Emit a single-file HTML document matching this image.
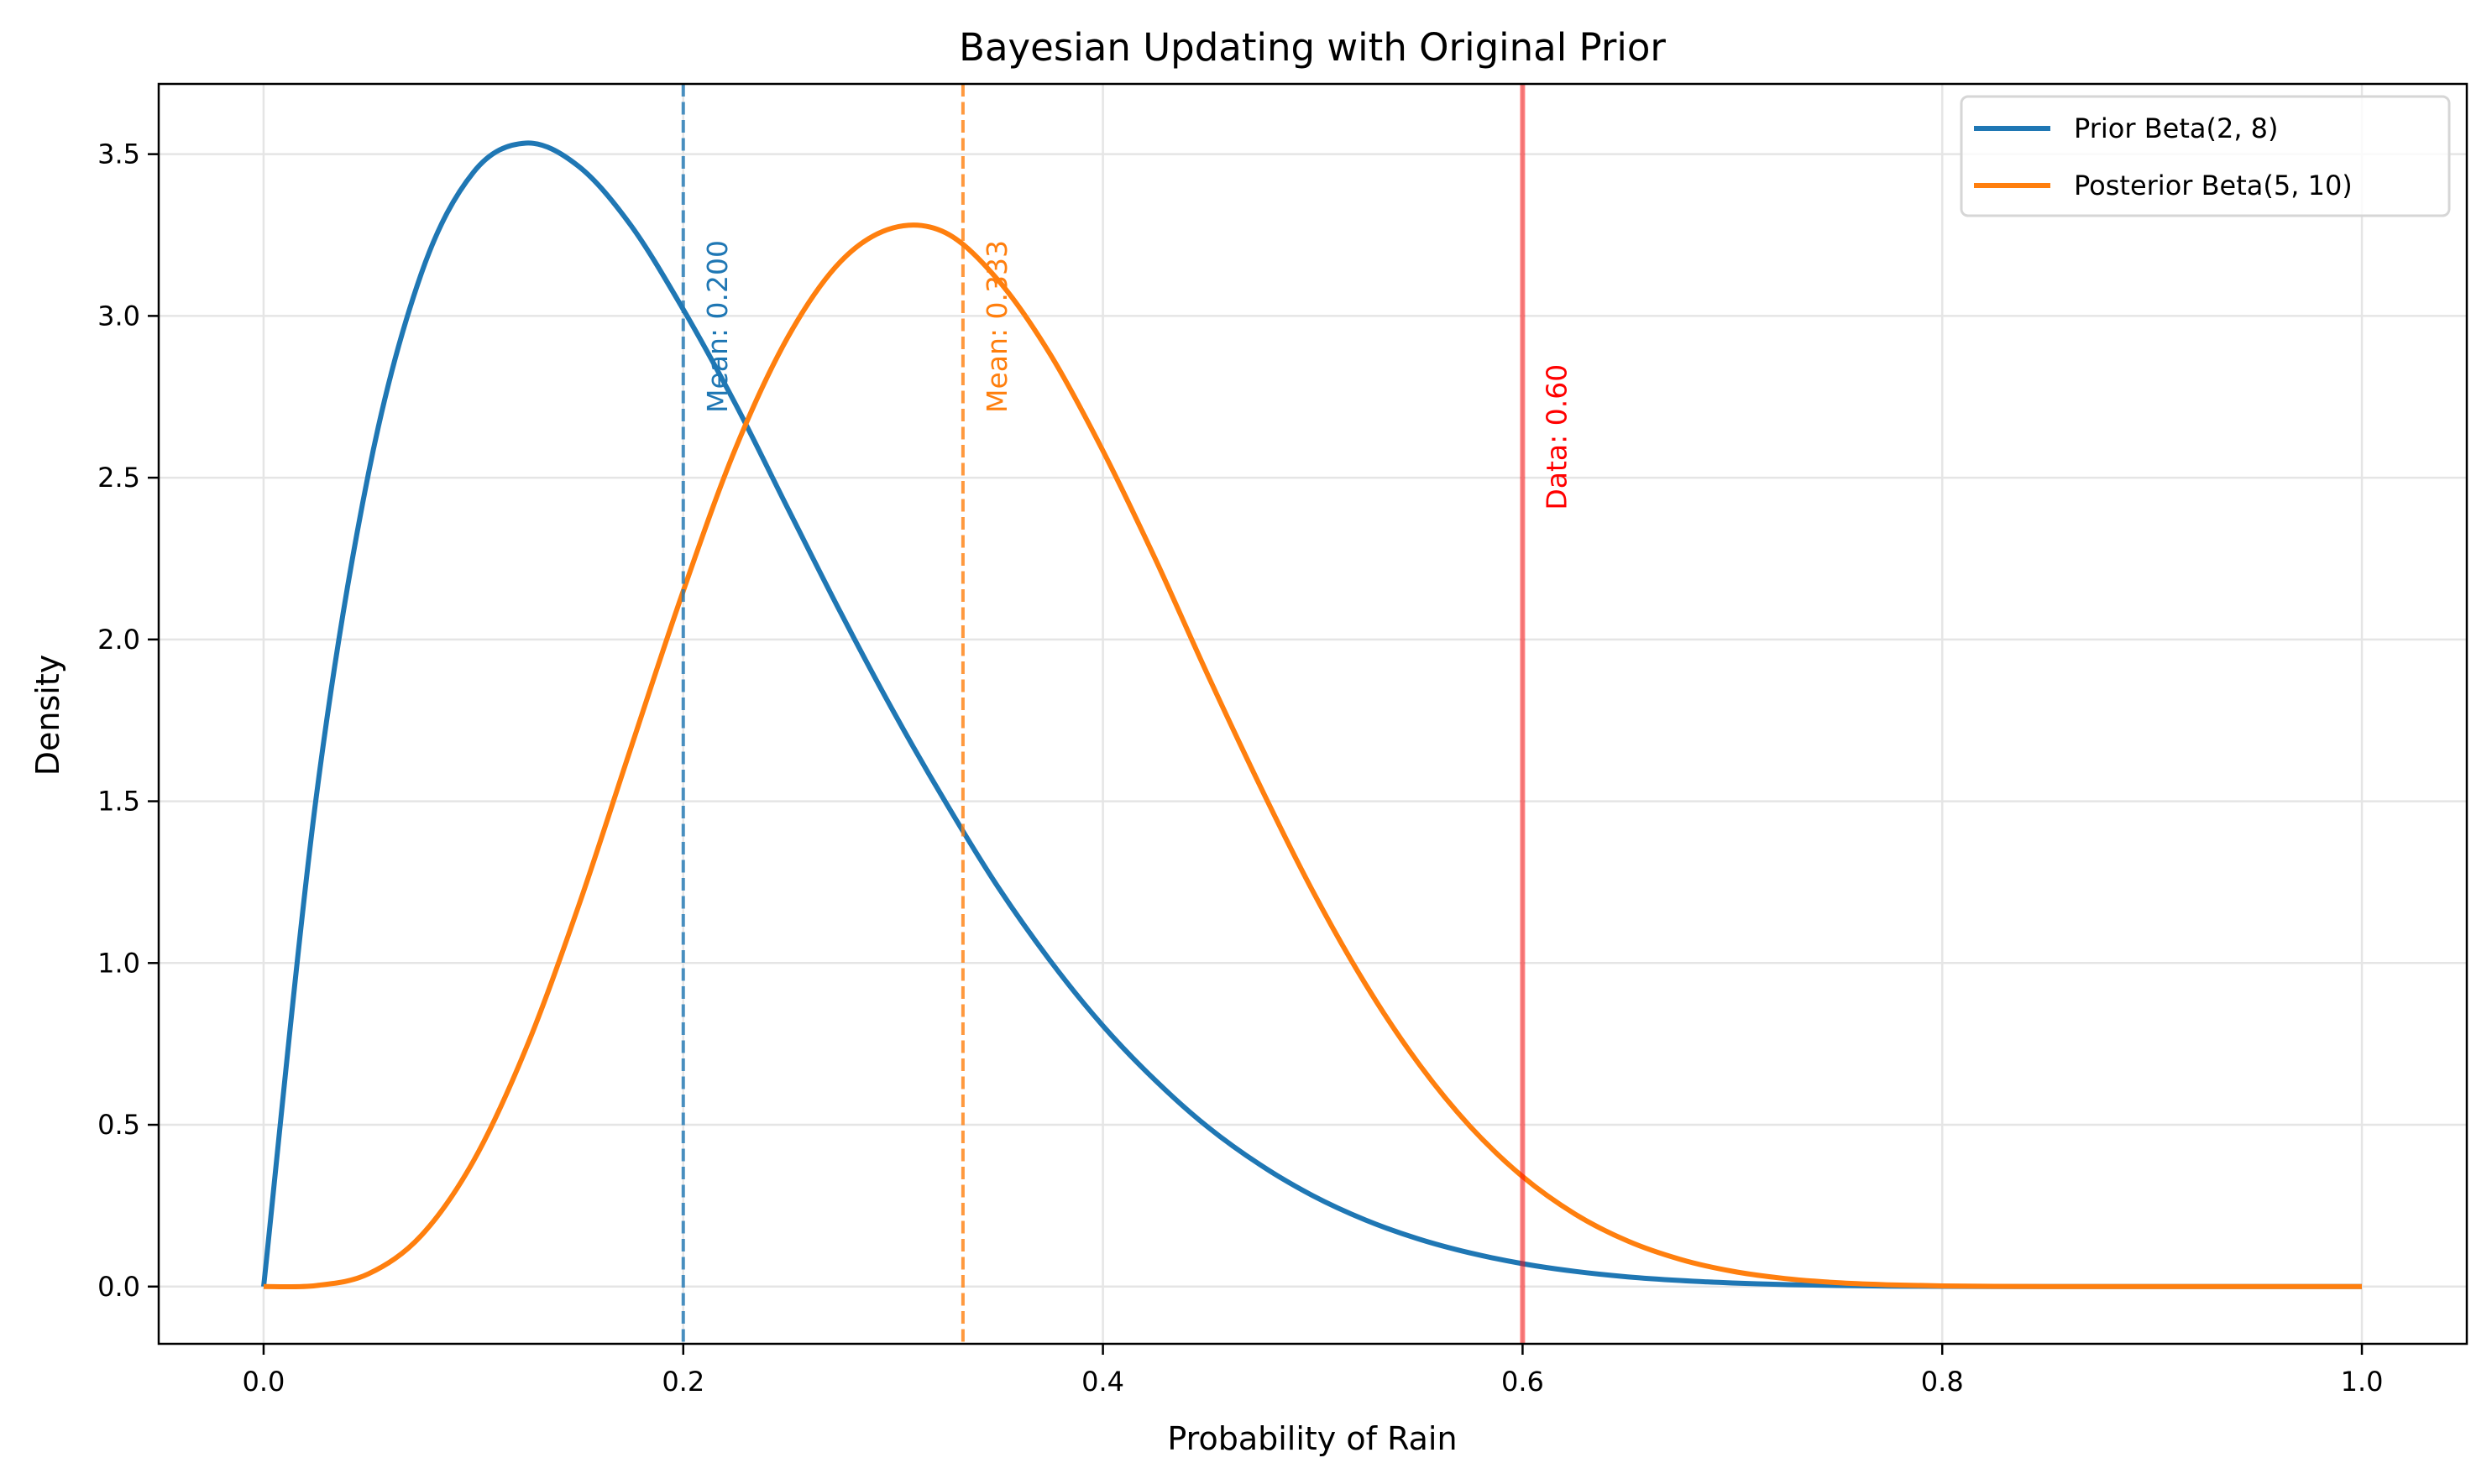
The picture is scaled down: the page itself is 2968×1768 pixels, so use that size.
<!DOCTYPE html>
<html><head><meta charset="utf-8"><style>
html,body{margin:0;padding:0;background:#fff;}
svg{display:block;font-family:"DejaVu Sans","Liberation Sans",sans-serif;}
</style></head><body>
<svg id="chart" width="2968" height="1768" viewBox="0 0 2968 1768" xmlns="http://www.w3.org/2000/svg">
<rect width="2968" height="1768" fill="#fff"/>
<g id="grid"></g>
<g id="marks"></g>
<g id="axes"></g>
<text x="1563" y="72" font-size="45" text-anchor="middle" fill="#000">Bayesian Updating with Original Prior</text>
<text x="1563" y="1727" font-size="38" text-anchor="middle" fill="#000">Probability of Rain</text>
<text x="0" y="0" font-size="38" text-anchor="middle" fill="#000" transform="translate(70,852) rotate(-90)">Density</text>
<g>
<rect x="2336" y="115" width="581" height="142" rx="8" fill="#fff" fill-opacity="0.8" stroke="#d6d6d6" stroke-width="3"/>
<line x1="2351" y1="153" x2="2442" y2="153" stroke="#1f77b4" stroke-width="6"/>
<text x="2470" y="164" font-size="32" fill="#000">Prior Beta(2, 8)</text>
<line x1="2351" y1="221" x2="2442" y2="221" stroke="#ff7f0e" stroke-width="6"/>
<text x="2470" y="232" font-size="32" fill="#000">Posterior Beta(5, 10)</text>
</g>
</svg>
<script>
const xValues = [0,0.025,0.05,0.075,0.1,0.125,0.15,0.175,0.2,0.225,0.25,0.275,0.3,0.325,0.35,0.375,0.4,0.425,0.45,0.475,0.5,0.525,0.55,0.575,0.6,0.625,0.65,0.675,0.7,0.725,0.75,0.775,0.8,0.825,0.85,0.875,0.9,0.925,0.95,0.975,1.0];
const priorValues = [0,1.508,2.514,3.128,3.444,3.534,3.463,3.280,3.020,2.726,2.403,2.083,1.779,1.497,1.235,1.006,0.806,0.637,0.493,0.376,0.281,0.206,0.148,0.104,0.0708,0.0469,0.0301,0.0188,0.0110,0.0062,0.0033,0.0016,0.0007,0.0003,0.0001,0,0,0,0,0,0];
const posteriorValues = [0,0.00311,0.0394,0.157,0.388,0.735,1.174,1.664,2.150,2.592,2.936,3.168,3.272,3.257,3.111,2.880,2.583,2.248,1.890,1.546,1.222,0.936,0.693,0.495,0.340,0.224,0.141,0.0844,0.0473,0.0249,0.0121,0.0054,0.0021,0.0007,0.0002,0,0,0,0,0,0];
const priorMean = 0.2;
const posteriorMean = 0.3333;
const dataValue = 0.6;
const xTicks = [0.0,0.2,0.4,0.6,0.8,1.0];
const xTickLabels = ["0.0","0.2","0.4","0.6","0.8","1.0"];
const yTicks = [0,0.5,1.0,1.5,2.0,2.5,3.0,3.5];
const yTickLabels = ["0.0","0.5","1.0","1.5","2.0","2.5","3.0","3.5"];

const L=189,R=2938,T=100,B=1601;
const X0=-0.05,X1=1.05,Y0=-0.177,Y1=3.717;
const X=v=>L+(v-X0)/(X1-X0)*(R-L);
const Y=v=>B-(v-Y0)/(Y1-Y0)*(B-T);
const NS="http://www.w3.org/2000/svg";
function mk(tag,attrs,parent){const e=document.createElementNS(NS,tag);for(const k in attrs)e.setAttribute(k,attrs[k]);parent.appendChild(e);return e;}
const grid=document.getElementById('grid'),marks=document.getElementById('marks'),axes=document.getElementById('axes');

xTicks.forEach((t,i)=>{
  const g=mk('line',{x1:X(t),x2:X(t),y1:T,y2:B,stroke:'#e5e5e5','stroke-width':2.5},grid);
  
  
  const tk=mk('line',{x1:X(t),x2:X(t),y1:B,y2:B+13,stroke:'#000','stroke-width':2.5},axes);
  
  
  const lb=mk('text',{x:X(t),y:B+56,'font-size':32,'text-anchor':'middle',fill:'#000'},axes);
  lb.textContent=xTickLabels[i];
  
  
});
yTicks.forEach((t,i)=>{
  const g=mk('line',{x1:L,x2:R,y1:Y(t),y2:Y(t),stroke:'#e5e5e5','stroke-width':2.5},grid);
  
  
  const tk=mk('line',{x1:L-13,x2:L,y1:Y(t),y2:Y(t),stroke:'#000','stroke-width':2.5},axes);
  
  
  const lb=mk('text',{x:L-22,y:Y(t)+11,'font-size':32,'text-anchor':'end',fill:'#000'},axes);
  lb.textContent=yTickLabels[i];
  
  
});

function pathFor(vals){
  const p=xValues.map((x,i)=>[X(x),Y(vals[i])]);
  let d='M'+p[0][0].toFixed(1)+','+p[0][1].toFixed(1);
  for(let i=0;i<p.length-1;i++){
    const p0=p[Math.max(0,i-1)],p1=p[i],p2=p[i+1],p3=p[Math.min(p.length-1,i+2)];
    const c1=[p1[0]+(p2[0]-p0[0])/6,p1[1]+(p2[1]-p0[1])/6];
    const c2=[p2[0]-(p3[0]-p1[0])/6,p2[1]-(p3[1]-p1[1])/6];
    d+=' C'+c1[0].toFixed(1)+','+c1[1].toFixed(1)+' '+c2[0].toFixed(1)+','+c2[1].toFixed(1)+' '+p2[0].toFixed(1)+','+p2[1].toFixed(1);
  }
  return d;
}
const pp=mk('path',{d:pathFor(priorValues),fill:'none',stroke:'#1f77b4','stroke-width':6,'stroke-linejoin':'round'},marks);


const po=mk('path',{d:pathFor(posteriorValues),fill:'none',stroke:'#ff7f0e','stroke-width':6,'stroke-linejoin':'round'},marks);



const pm=mk('line',{x1:X(priorMean),x2:X(priorMean),y1:T,y2:B,stroke:'#1f77b4','stroke-opacity':0.8,'stroke-width':4,'stroke-dasharray':'15,6.5'},marks);


const qm=mk('line',{x1:X(posteriorMean),x2:X(posteriorMean),y1:T,y2:B,stroke:'#ff7f0e','stroke-opacity':0.8,'stroke-width':4,'stroke-dasharray':'15,6.5'},marks);


const dl=mk('line',{x1:X(dataValue),x2:X(dataValue),y1:T,y2:B,stroke:'#ff0000','stroke-opacity':0.5,'stroke-width':6},marks);



function vlabel(v,yv,txt,col){const t=mk('text',{x:0,y:0,'font-size':33,fill:col,transform:`translate(${X(v+0.01)+27},${Y(yv)}) rotate(-90)`},marks);t.textContent=txt;return t;}
const t1=vlabel(priorMean,2.7,'Mean: '+priorMean.toFixed(3),'#1f77b4');


const t2=vlabel(posteriorMean,2.7,'Mean: '+posteriorMean.toFixed(3),'#ff7f0e');


const t3=vlabel(dataValue,2.4,'Data: '+dataValue.toFixed(2),'#ff0000');



const fr=mk('rect',{x:L,y:T,width:R-L,height:B-T,fill:'none',stroke:'#000','stroke-width':2.5},axes);


</script>
</body></html>
